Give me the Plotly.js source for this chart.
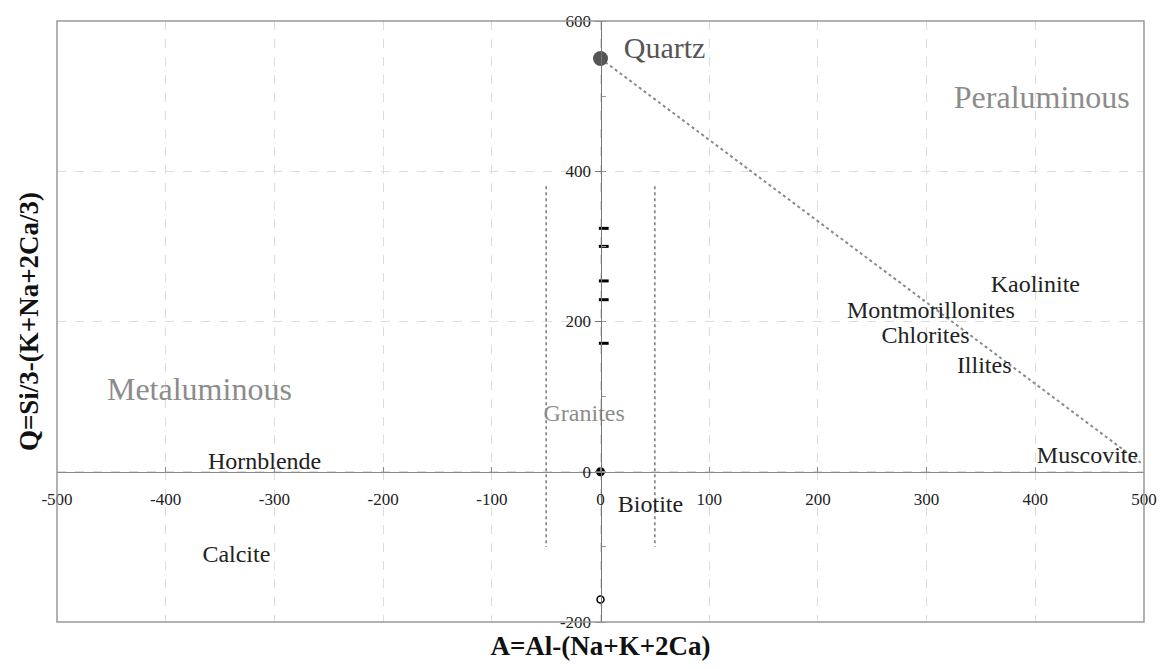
<!DOCTYPE html>
<html>
<head>
<meta charset="utf-8">
<script src="https://cdn.plot.ly/plotly-3.0.1.min.js"></script>
<style>html,body{margin:0;padding:0;background:#fff;}#chart{width:1160px;height:669px;}</style>
</head>
<body>
<div id="chart"></div>
<script>
// Reference points on the A-Q diagram
const quartzA = [0], quartzQ = [550];
const originA = [0], originQ = [0];
const openA = [0], openQ = [-170];
const dashA = [3, 3, 3, 3, 3];
const dashQ = [324, 300, 254, 229, 171];
// Quartz -> Muscovite trend
const trendA = [0, 497];
const trendQ = [550, 12];
// Granite field limits
const graniteLeftA = [-50, -50], graniteRightA = [50, 50];
const graniteQ = [380, -100];
// Mineral labels
const mineralNames = ["Kaolinite", "Montmorillonites", "Chlorites", "Illites", "Muscovite", "Hornblende", "Calcite", "Biotite"];
const mineralA = [400, 304, 299, 353, 448, -309, -335, 46];
const mineralQ = [247, 213, 180, 140, 20, 12, -112, -46];
// Region labels
const regionNames = ["Peraluminous", "Metaluminous"];
const regionA = [406, -369];
const regionQ = [495, 106];
const graniteLabel = ["Granites"], graniteLabelA = [-15], graniteLabelQ = [76];
const quartzLabel = ["Quartz"], quartzLabelA = [59], quartzLabelQ = [561];
// Tick labels
const xTickVals = [-500, -400, -300, -200, -100, 0, 100, 200, 300, 400, 500];
const xTickText = ["-500", "-400", "-300", "-200", "-100", "0", "100", "200", "300", "400", "500"];
const yTickVals = [-200, 0, 200, 400, 600];
const yTickText = ["-200", "0", "200", "400", "600"];

const serif = "Liberation Serif, Times New Roman, serif";

const traces = [
  {x: trendA, y: trendQ, mode: "lines", line: {color: "#8a8a8a", width: 2, dash: "dot"}, hoverinfo: "skip"},
  {x: graniteLeftA, y: graniteQ, mode: "lines", line: {color: "#777", width: 1.5, dash: "dot"}, hoverinfo: "skip"},
  {x: graniteRightA, y: graniteQ, mode: "lines", line: {color: "#777", width: 1.5, dash: "dot"}, hoverinfo: "skip"},
  {x: quartzA, y: quartzQ, mode: "markers", marker: {color: "#555", size: 15}},
  {x: originA, y: originQ, mode: "markers", marker: {color: "#000", size: 9}},
  {x: openA, y: openQ, mode: "markers", marker: {color: "#fff", size: 7, line: {color: "#000", width: 1.5}}},
  {x: dashA, y: dashQ, mode: "markers", marker: {symbol: "line-ew", size: 7, line: {color: "#000", width: 3}}},
  {x: mineralA, y: mineralQ, mode: "text", text: mineralNames, textfont: {family: serif, size: 24, color: "#222"}},
  {x: regionA, y: regionQ, mode: "text", text: regionNames, textfont: {family: serif, size: 32, color: "#8c8c8c"}},
  {x: graniteLabelA, y: graniteLabelQ, mode: "text", text: graniteLabel, textfont: {family: serif, size: 24, color: "#8c8c8c"}},
  {x: quartzLabelA, y: quartzLabelQ, mode: "text", text: quartzLabel, textfont: {family: serif, size: 30, color: "#555"}}
];

const layout = {
  width: 1160, height: 669,
  margin: {l: 57, r: 16, t: 21, b: 47},
  showlegend: false,
  paper_bgcolor: "#fff", plot_bgcolor: "#fff",
  font: {family: serif, color: "#222"},
  xaxis: {
    range: [-500, 500], tickmode: "array", tickvals: xTickVals, ticktext: xTickText,
    anchor: "free", position: 0.25,
    showline: true, linecolor: "#888", linewidth: 1.5,
    ticks: "inside", ticklen: 5, tickcolor: "#888",
    tickfont: {family: serif, size: 17, color: "#222"},
    ticklabelstandoff: 11,
    showgrid: true, gridcolor: "#dcdcdc", griddash: "dash", gridwidth: 1,
    zeroline: false,
    title: {text: "<b>A=Al-(Na+K+2Ca)</b>", font: {family: serif, size: 27, color: "#111"}, standoff: 128}
  },
  yaxis: {
    range: [-200, 600], tickmode: "array", tickvals: yTickVals, ticktext: yTickText,
    anchor: "free", position: 0.5,
    showline: true, linecolor: "#777", linewidth: 1.5,
    ticks: "outside", ticklen: 6, tickcolor: "#777",
    tickfont: {family: serif, size: 17, color: "#222"},
    minor: {dtick: 100, tick0: 0, ticks: "inside", ticklen: 4, tickcolor: "#999", showgrid: false},
    showgrid: true, gridcolor: "#dcdcdc", griddash: "dash", gridwidth: 1,
    zeroline: false,
    title: {text: "<b>Q=Si/3-(K+Na+2Ca/3)</b>", font: {family: serif, size: 27, color: "#111"}, standoff: 512}
  },
  shapes: [
    {type: "rect", xref: "paper", yref: "paper", x0: 0, x1: 1, y0: 0, y1: 1, line: {color: "#999", width: 1.5}, fillcolor: "rgba(0,0,0,0)"}
  ]
};

Plotly.newPlot("chart", traces, layout, {displayModeBar: false, staticPlot: true});
</script>
</body>
</html>
